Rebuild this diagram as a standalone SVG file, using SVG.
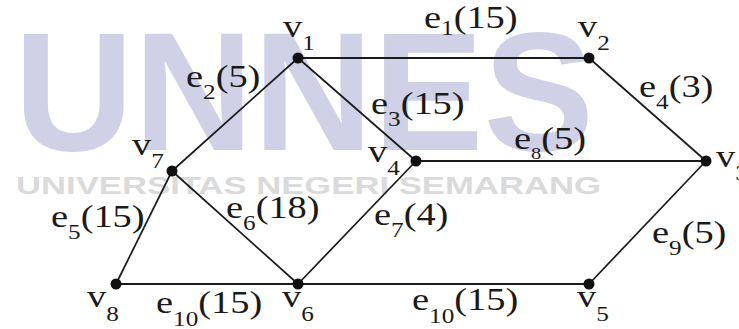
<svg xmlns="http://www.w3.org/2000/svg" width="739" height="329" viewBox="0 0 739 329">
<style>
.wm{font-family:"Liberation Sans",Arial,sans-serif;font-weight:bold;fill:#d0d0e6}
.wm2{font-family:"Liberation Sans",Arial,sans-serif;font-weight:bold;fill:#dadada;font-size:24px}
.e{stroke:#1a1a1a;stroke-width:1.7;fill:none}
.h{stroke-width:2.2}
.dot{fill:#111}
</style>
<rect width="739" height="329" fill="#fff"/>
<g id="watermark">
<text class="wm" x="14" y="150" font-size="168" textLength="580" lengthAdjust="spacingAndGlyphs">UNNES</text>
<text class="wm2" x="16" y="194" textLength="585" lengthAdjust="spacingAndGlyphs">UNIVERSITAS NEGERI SEMARANG</text>
</g>
<g id="connectors">
<line class="e h" x1="298" y1="58" x2="589" y2="58"/>
<line class="e" x1="298" y1="58" x2="172" y2="171"/>
<line class="e" x1="298" y1="58" x2="416" y2="161"/>
<line class="e" x1="589" y1="58" x2="706" y2="161"/>
<line class="e h" x1="416" y1="161" x2="706" y2="161"/>
<line class="e" x1="172" y1="171" x2="116" y2="284"/>
<line class="e" x1="172" y1="171" x2="298" y2="284"/>
<line class="e" x1="416" y1="161" x2="298" y2="284"/>
<line class="e" x1="706" y1="161" x2="589" y2="284"/>
<line class="e h" x1="116" y1="284" x2="589" y2="284"/>
</g>
<g font-family="Liberation Serif" font-size="32" fill="#1a1a1a">
<g id="edge-labels">
<text transform="translate(424,28) scale(1.2 1)">e<tspan font-size="21" dy="7">1</tspan><tspan dy="-7">(15)</tspan></text>
<text transform="translate(186,87) scale(1.2 1)">e<tspan font-size="21" dy="12">2</tspan><tspan dy="-12">(5)</tspan></text>
<text transform="translate(371,114) scale(1.2 1)">e<tspan font-size="21" dy="12">3</tspan><tspan dy="-12">(15)</tspan></text>
<text transform="translate(639,97) scale(1.2 1)">e<tspan font-size="21" dy="12">4</tspan><tspan dy="-12">(3)</tspan></text>
<text transform="translate(514,149) scale(1.2 1)">e<tspan font-size="17" dy="10">8</tspan><tspan dy="-10">(5)</tspan></text>
<text transform="translate(51,227) scale(1.2 1)">e<tspan font-size="21" dy="12">5</tspan><tspan dy="-12">(15)</tspan></text>
<text transform="translate(226,218) scale(1.2 1)">e<tspan font-size="21" dy="12">6</tspan><tspan dy="-12">(18)</tspan></text>
<text transform="translate(374,225) scale(1.2 1)">e<tspan font-size="21" dy="12">7</tspan><tspan dy="-12">(4)</tspan></text>
<text transform="translate(652,243) scale(1.2 1)">e<tspan font-size="21" dy="12">9</tspan><tspan dy="-12">(5)</tspan></text>
<text transform="translate(156,313) scale(1.2 1)">e<tspan font-size="21" dy="13">10</tspan><tspan dy="-13">(15)</tspan></text>
<text transform="translate(412,310) scale(1.2 1)">e<tspan font-size="21" dy="13">10</tspan><tspan dy="-13">(15)</tspan></text>
</g>
<g id="v1"><circle class="dot" cx="298" cy="58" r="5.5"/><text transform="translate(283,37) scale(1.2 1)">v<tspan font-size="21" dy="13">1</tspan></text></g>
<g id="v2"><circle class="dot" cx="589" cy="58" r="5.5"/><text transform="translate(578,37) scale(1.2 1)">v<tspan font-size="21" dy="13">2</tspan></text></g>
<g id="v3"><circle class="dot" cx="706" cy="161" r="5.5"/><text transform="translate(716,167) scale(1.2 1)">v<tspan font-size="21" dy="13">3</tspan></text></g>
<g id="v4"><circle class="dot" cx="416" cy="161" r="5.5"/><text transform="translate(368,162) scale(1.2 1)">v<tspan font-size="21" dy="13">4</tspan></text></g>
<g id="v5"><circle class="dot" cx="589" cy="284" r="5.5"/><text transform="translate(577,307) scale(1.2 1)">v<tspan font-size="21" dy="14">5</tspan></text></g>
<g id="v6"><circle class="dot" cx="298" cy="284" r="5.5"/><text transform="translate(282,307) scale(1.2 1)">v<tspan font-size="21" dy="14">6</tspan></text></g>
<g id="v7"><circle class="dot" cx="172" cy="171" r="5.5"/><text transform="translate(132,155) scale(1.2 1)">v<tspan font-size="21" dy="13">7</tspan></text></g>
<g id="v8"><circle class="dot" cx="116" cy="284" r="5.5"/><text transform="translate(87,307) scale(1.2 1)">v<tspan font-size="21" dy="14">8</tspan></text></g>
</g>
</svg>
